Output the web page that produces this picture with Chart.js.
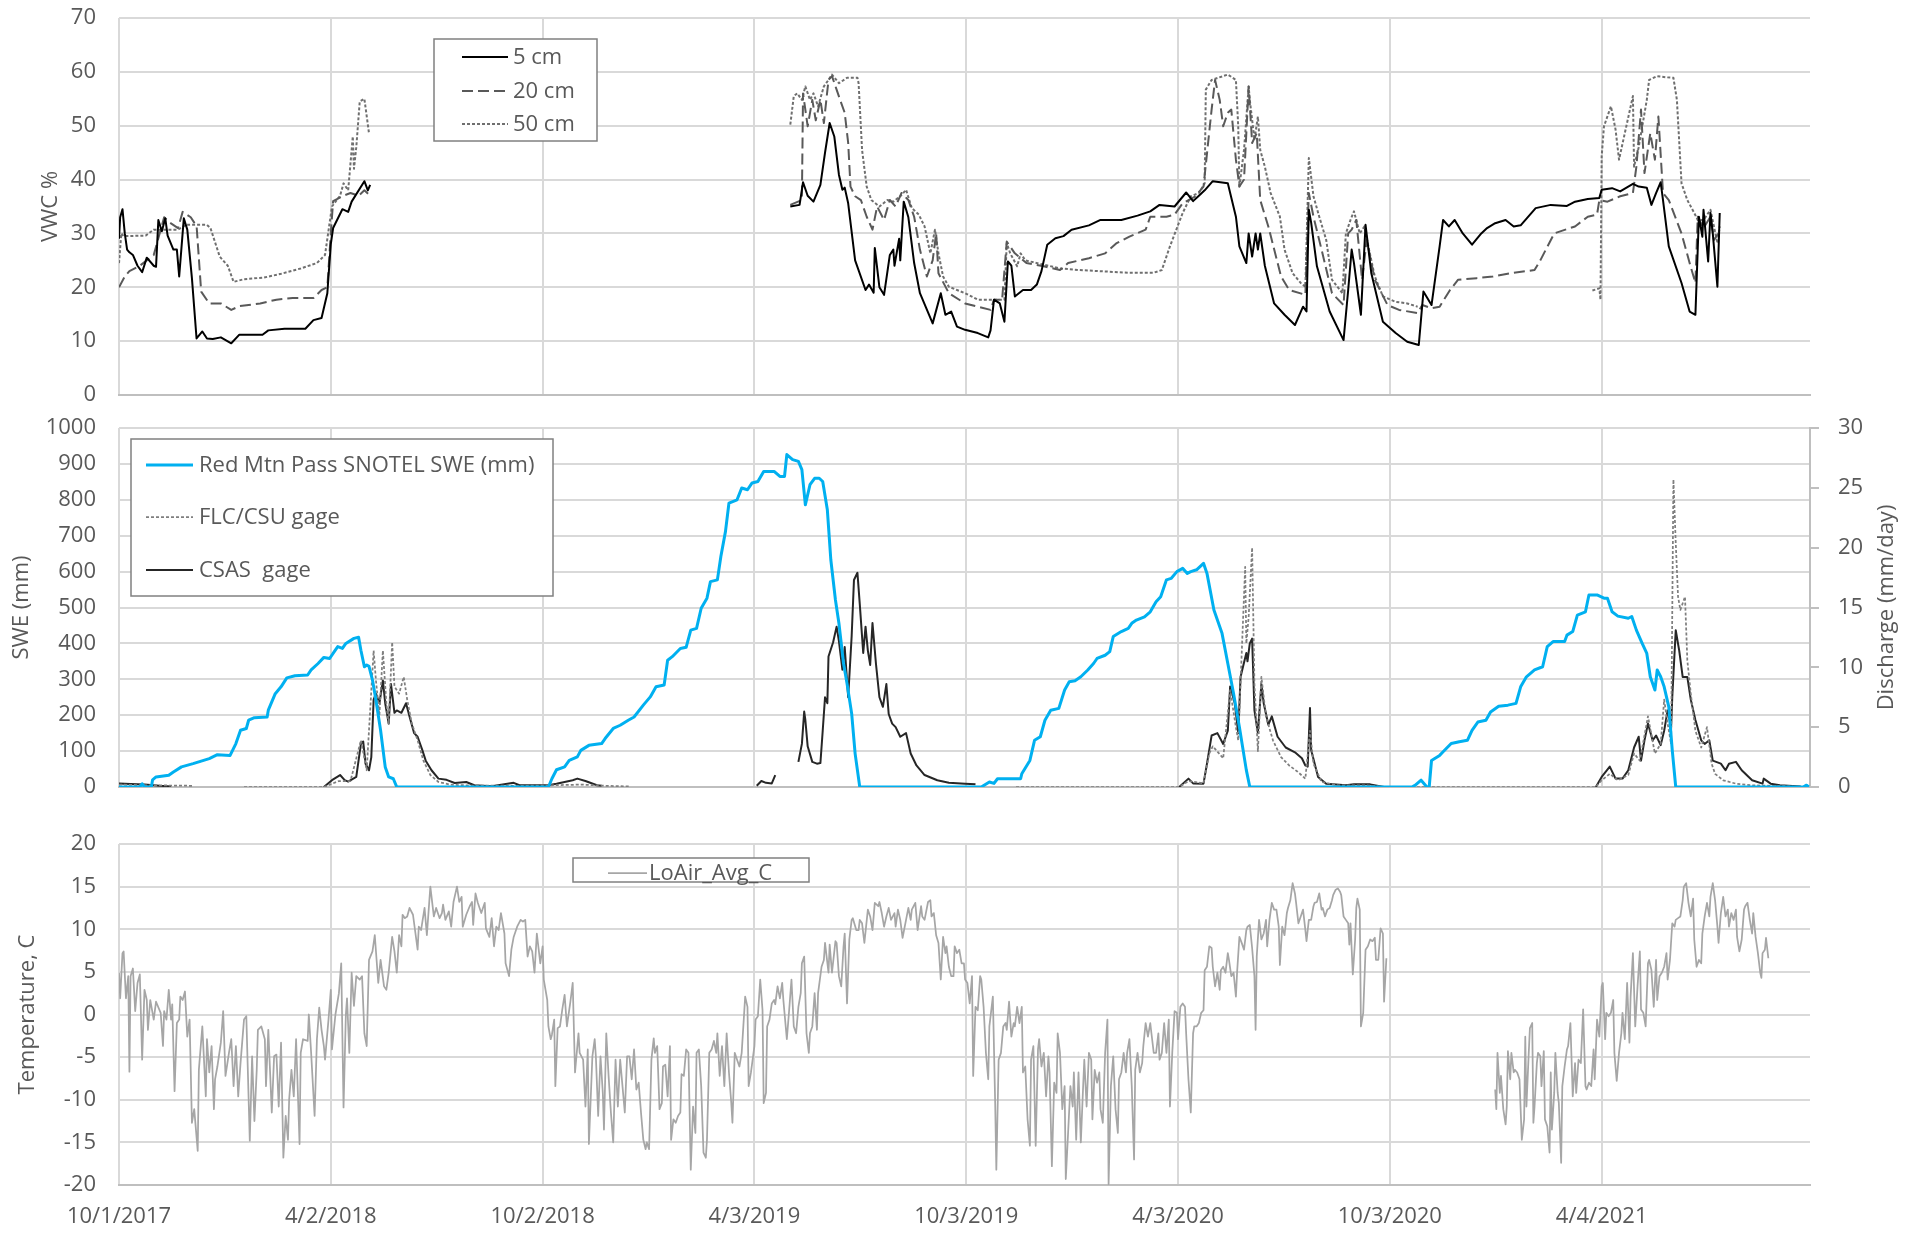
<!DOCTYPE html>
<html>
<head>
<meta charset="utf-8">
<script src="https://cdn.jsdelivr.net/npm/chart.js@4.4.1/dist/chart.umd.min.js"></script>
<style>
  body { margin: 0; background: #fff; }
  #wrap { position: relative; width: 1907px; height: 1235px; }
  canvas { position: absolute; left: 0; }
</style>
</head>
<body>
<div id="wrap">
  <canvas id="vwcChart" width="1907" height="410" style="top:0px"></canvas>
  <canvas id="sweChart" width="1907" height="410" style="top:410px"></canvas>
  <canvas id="tempChart" width="1907" height="415" style="top:820px"></canvas>
</div>
<script>
// x values are days since 10/1/2017
var tickDays = [0, 183, 366, 549, 732, 915, 1098, 1281];
var lastDay = 1461;

// soil moisture, VWC %
var vwc5 = [[0,29],[1,33],[3,34.5],[5,30],[7,27],[9,26.5],[12,26],[16,24],[20,22.8],[24,25.5],[30,24],[32,23.8],[34,32.5],[37,30.4],[40,32.8],[42,29.6],[47,27],[50,27],[52,22],[56,32.8],[59,30.7],[63,21.7],[67,10.5],[72,11.8],[76,10.5],[81,10.4],[88,10.7],[97,9.6],[104,11.2],[124,11.2],[129,12],[143,12.3],[161,12.3],[168,13.9],[175,14.3],[180,18.9],[183,28],[185,31],[193,34.5],[198,34],[201,35.9],[212,39.7],[215,38],[217,39],
  [400,null],
  [580,35],[588,35.3],[591,39.5],[595,37],[600,35.9],[606,39],[610,45],[614,50.5],[618,48],[622,40.9],[625,38.1],[627,38.5],[630,35.6],[636,25],[645,19.5],[648,20.5],[652,19],[653,27.3],[657,20],[661,18.6],[666,26],[669,27],[670,24],[674,29],[675,25],[678,35.9],[682,33],[687,24.5],[692,18.9],[703,13.3],[710,18.9],[714,14.9],[719,15.5],[724,12.7],[731,12.1],[742,11.5],[751,10.7],[753,12],[756,17.7],[761,17],[765,13.6],[768,24.8],[771,24],[774,18.3],[781,19.5],[788,19.5],[793,20.5],[797,23],[802,27.9],[809,29.1],[816,29.5],[823,30.7],[838,31.5],[848,32.5],[866,32.5],[880,33.3],[891,34.1],[899,35.3],[912,35],[922,37.6],[928,36],[933,37],[938,38],[945,39.7],[958,39.3],[965,33.1],[968,27.6],[974,24.5],[976,30],[979,25.7],[982,30],[984,27],[986,30],[990,24],[998,17],[1007,14.9],[1016,13],[1023,16.4],[1026,15.5],[1028,34.4],[1030,32],[1035,23.9],[1046,15.5],[1058,10.2],[1062,19.5],[1065,27],[1067,24.5],[1073,14.9],[1077,31.6],[1082,22.6],[1092,13.6],[1103,11.5],[1113,9.9],[1123,9.3],[1127,19.2],[1134,16.7],[1141,27.6],[1144,32.5],[1149,31.3],[1154,32.5],[1161,30],[1169,27.9],[1177,30],[1182,31],[1189,31.9],[1198,32.5],[1205,31.3],[1211,31.5],[1224,34.7],[1237,35.3],[1251,35.1],[1258,35.9],[1269,36.4],[1279,36.6],[1281,38.1],[1290,38.4],[1297,37.8],[1308,39.2],[1313,38.7],[1320,38.5],[1324,35.3],[1328,37.5],[1332,39.5],[1334,36.2],[1339,27.6],[1350,20.8],[1357,15.5],[1362,14.9],[1365,33.1],[1368,29.4],[1369,34.4],[1373,24.8],[1375,33.8],[1377,30],[1381,20.1],[1383,33.8]];

var vwc20 = [[0,20],[5,22],[9,23],[18,24],[30,26],[39,33],[44,32],[51,31],[55,34],[62,33],[65,32],[67,31.5],[71,19.2],[78,17],[88,17],[97,15.8],[104,16.5],[122,17],[136,17.7],[150,18],[168,18],[175,19.5],[180,20],[183,30],[185,36],[194,37],[200,37.5],[207,37],[212,38],[217,37],
  [400,null],
  [580,35.3],[590,36.2],[591,56],[595,49.9],[599,54.8],[602,51],[606,54.8],[609,50.5],[613,58.5],[616,59.2],[620,56.7],[623,54.8],[627,52.4],[630,46.8],[632,38.7],[636,36.9],[641,36.2],[646,33.1],[651,30.7],[655,35],[661,32.5],[666,36.2],[671,35],[676,37.5],[682,36.2],[687,33.1],[692,27],[698,22],[703,25],[706,30],[708,22.6],[717,18.9],[731,17],[742,16.4],[753,15.8],[756,17.7],[763,17.7],[767,28.5],[774,26.3],[784,24.5],[799,23.9],[813,23.2],[820,24.5],[838,25.4],[852,26.3],[862,28.2],[873,29.4],[887,30.7],[891,33.1],[905,33.1],[912,33.5],[919,35.6],[930,36.9],[937,38.7],[944,53],[947,58.5],[951,54.8],[954,49.9],[958,52.4],[961,53],[965,43.7],[968,38.7],[972,40],[976,57.3],[979,46.8],[983,48.6],[986,36.2],[993,31.3],[1004,22],[1011,19.5],[1025,18.6],[1028,37.5],[1032,33.1],[1039,27],[1048,18.9],[1058,16.7],[1062,30],[1065,30.7],[1069,32.5],[1074,21.4],[1078,28.8],[1085,21.4],[1096,16.7],[1106,15.8],[1122,15.2],[1126,16.7],[1134,16.1],[1141,16.4],[1150,19.5],[1157,21.4],[1173,21.7],[1187,22],[1202,22.6],[1223,23.2],[1228,25],[1240,30],[1258,31.3],[1269,33.1],[1277,33.5],[1279,36.2],[1286,35.9],[1297,36.9],[1308,37.5],[1311,42.4],[1315,53],[1318,41.2],[1323,48.6],[1327,43.7],[1330,51.7],[1334,37.5],[1339,36.2],[1350,30],[1357,24.5],[1362,20.8],[1364,33.1],[1369,31],[1375,33.1],[1378,28.8],[1382,30]];

var vwc50 = [[0,24.5],[2,30],[4,29.5],[23,29.6],[30,30.7],[51,30.7],[58,31.6],[76,31.6],[79,31],[87,25.7],[94,24],[99,21],[108,21.5],[125,21.8],[140,22.5],[157,23.5],[171,24.5],[178,26],[180,29],[184,35],[191,37],[194,39.3],[198,38],[202,48],[203,42],[205,46],[208,54.5],[212,55],[216,48.6],
  [400,null],
  [580,50.2],[583,55.5],[586,56],[590,54.8],[593,57.3],[597,54.8],[600,56],[604,53.6],[609,57.3],[613,58.5],[616,59.5],[622,57.9],[629,58.9],[638,58.9],[639,57.9],[642,45.5],[646,38.7],[650,36.2],[657,35],[664,36.2],[669,35.9],[675,36.9],[680,38.1],[685,34.7],[691,33.5],[696,31.3],[701,26.3],[705,30.7],[708,26.3],[712,22],[717,20.1],[724,19.5],[731,18.9],[742,17.7],[754,17.7],[765,17.7],[767,28.2],[770,26.3],[776,23.9],[779,26.3],[783,25],[799,24.2],[813,23.5],[830,23.2],[855,22.9],[873,22.7],[894,22.7],[901,23.2],[908,27.6],[919,33.8],[926,36.9],[933,37.5],[938,39.3],[939,56.7],[944,58.5],[958,59.5],[965,58.5],[967,49.9],[968,38.7],[972,45.5],[976,57.3],[977,54.8],[981,47.4],[984,51.7],[986,45.5],[990,42.4],[995,37.5],[1003,33.1],[1007,27],[1014,22.6],[1021,20.8],[1025,20.1],[1028,44],[1032,36.9],[1037,33.1],[1043,28.8],[1048,21.4],[1057,18.9],[1060,30],[1064,32.5],[1067,34.1],[1072,30],[1076,31.3],[1080,27],[1085,22],[1092,18.3],[1103,17.3],[1113,17],[1122,16.4],
  [1200,null],
  [1273,19.4],[1279,19.8],[1280,17.7],[1281,44.3],[1283,49.9],[1289,53.6],[1293,49.3],[1296,43.7],[1308,55.5],[1309,42.4],[1313,46],[1320,54.8],[1322,58.5],[1329,59.2],[1336,59],[1343,58.9],[1346,54.8],[1350,39.3],[1355,36.2],[1361,33.8],[1364,32.5],[1369,32.5],[1375,34.4],[1378,31.3],[1381,28.2],[1383,31.3]];

// snow water equivalent, mm
var sweRedMtn = [[0,0],[18,0],[20,9],[22,0],[28,0],[29,20],[32,28],[43,33],[47,42],[54,56],[64,65],[78,79],[85,90],[96,88],[101,121],[105,158],[110,163],[112,186],[117,193],[128,195],[129,214],[135,260],[140,279],[145,304],[152,310],[163,312],[166,326],[172,344],[177,361],[182,358],[186,377],[189,391],[193,386],[196,400],[203,414],[207,417],[209,381],[212,335],[214,340],[216,336],[219,298],[222,242],[226,158],[230,56],[233,28],[237,23],[240,0],[371,0],[374,23],[378,48],[385,56],[389,74],[396,84],[399,102],[406,116],[417,121],[420,135],[427,163],[433,172],[440,186],[445,195],[453,228],[459,251],[464,279],[471,284],[474,353],[478,363],[485,386],[490,389],[494,437],[499,442],[503,498],[508,526],[511,572],[517,577],[520,642],[524,712],[527,791],[534,800],[538,833],[543,828],[547,847],[552,851],[557,879],[566,879],[571,865],[575,865],[577,926],[582,912],[587,907],[590,884],[593,786],[597,842],[601,860],[605,860],[608,851],[612,772],[615,633],[619,521],[622,456],[626,344],[629,288],[633,205],[636,93],[640,0],[745,0],[752,14],[756,10],[759,23],[779,23],[780,37],[787,74],[791,130],[796,140],[800,186],[805,214],[812,219],[817,270],[821,293],[826,296],[831,307],[837,326],[842,344],[845,358],[852,367],[856,377],[859,419],[866,433],[872,442],[875,456],[879,465],[886,474],[891,488],[896,516],[900,530],[905,577],[909,581],[914,600],[919,609],[923,595],[926,600],[931,605],[937,623],[940,595],[946,493],[953,428],[958,344],[963,260],[968,167],[974,47],[977,0],[1117,0],[1120,5],[1125,19],[1130,0],[1132,0],[1134,74],[1141,88],[1144,98],[1151,121],[1158,126],[1165,130],[1169,158],[1174,181],[1181,186],[1185,209],[1192,225],[1200,228],[1207,233],[1211,279],[1216,307],[1223,326],[1230,335],[1234,391],[1239,405],[1249,405],[1251,423],[1256,433],[1260,479],[1267,488],[1270,535],[1277,535],[1283,526],[1286,526],[1290,488],[1295,476],[1304,470],[1307,475],[1311,437],[1316,400],[1320,372],[1323,307],[1327,270],[1329,326],[1332,307],[1335,279],[1339,223],[1342,102],[1345,0],[1455,0],[1458,5],[1460,0]];

// discharge, mm/day
var flcGage = [[0,0.2],[20,0.15],[64,0.1],[90,null],[108,0],[177,0],[190,0.5],[200,0.5],[209,3.9],[214,1.4],[220,11.4],[222,8.9],[225,6],[228,11.4],[231,7],[233,5.3],[236,12.1],[238,8.4],[242,7.8],[246,9.2],[249,7.3],[253,5.3],[258,3.9],[263,2.2],[269,1],[276,0.42],[286,0.2],[304,0.12],[350,0.1],[400,0.2],[420,0.1],[441,0.05],
  [600,null],
  [775,0],[916,0],[924,0.5],[937,0.3],[942,2.8],[945,3.4],[954,2.4],[960,8.1],[965,5],[967,3.9],[973,18.4],[974,12],[976,14.2],[979,20],[981,8.6],[984,3],[987,9.2],[991,5.9],[997,3.9],[1004,2.5],[1011,1.8],[1018,1.3],[1025,0.7],[1029,4.7],[1032,1.95],[1039,0.42],[1053,0.14],[1078,0.14],[1092,0],[1130,0],[1276,0],[1281,0.56],[1288,1.1],[1295,0.56],[1304,1],[1309,2.8],[1314,2.2],[1321,5.9],[1327,2.8],[1332,3.6],[1335,7.3],[1338,5.3],[1341,3.6],[1343,25.7],[1345,20.4],[1347,15.9],[1349,14.8],[1353,15.9],[1355,10.6],[1358,7.8],[1362,4.7],[1367,3.3],[1372,5],[1376,1.95],[1379,1.1],[1386,0.56],[1397,0.28],[1411,0.14],[1446,0.05]];

var csasGage = [[0,0.3],[10,0.25],[22,0.2],[35,0.1],[45,0.05],[100,null],
  [177,0],[184,0.57],[191,1],[195,0.57],[198,0.45],[205,0.84],[209,3.6],[211,3.8],[213,1.95],[216,1.4],[218,2.5],[220,7.3],[222,7.8],[225,7],[228,8.9],[230,7],[233,5.3],[235,8.6],[238,6.2],[240,6.4],[244,6.2],[248,7],[251,5.9],[255,4.5],[258,4.2],[262,3.1],[265,2.2],[270,1.4],[276,0.7],[283,0.6],[290,0.33],[300,0.42],[307,0.15],[322,0.06],[341,0.35],[346,0.15],[371,0.15],[378,0.27],[392,0.57],[396,0.7],[403,0.5],[413,0.15],[417,0.1],
  [480,null],
  [551,0.1],[555,0.5],[559,0.35],[564,0.3],[567,1],[577,null],
  [587,2.1],[590,3.6],[592,6.3],[593,5.6],[595,3.4],[599,2.1],[603,1.95],[606,2],[608,4.7],[610,7.5],[612,7],[613,10.9],[617,12.1],[620,13.4],[622,12.2],[625,9.8],[627,11.7],[630,7.5],[633,12.6],[635,17.3],[638,17.9],[640,15.3],[643,11.2],[645,13.4],[647,11.4],[649,10.2],[651,13.7],[654,10.3],[657,7.5],[660,6.7],[663,8.6],[665,6.1],[668,5.3],[671,5],[675,4.2],[680,4.5],[684,2.8],[689,1.8],[696,1],[707,0.56],[717,0.36],[731,0.28],[740,0.22],
  [830,null],
  [916,0],[924,0.7],[928,0.3],[937,0.28],[940,1.95],[944,4.3],[949,4.5],[954,3.6],[958,4.7],[960,8.4],[964,7],[967,4.5],[969,9.2],[974,11.2],[975,10.5],[977,12],[979,12.4],[981,6.4],[984,4.5],[987,8.6],[989,7],[993,5.2],[996,5.9],[1001,4.2],[1008,3.3],[1016,2.9],[1022,2.4],[1025,1.8],[1027,1.7],[1029,6.6],[1030,3.1],[1036,0.84],[1043,0.28],[1060,0.14],[1067,0.22],[1081,0.22],[1093,0],
  [1180,null],
  [1276,0],[1281,0.84],[1288,1.7],[1293,0.7],[1299,0.7],[1304,1.4],[1309,3.3],[1313,4.2],[1315,2.2],[1318,3.9],[1321,5.3],[1325,3.9],[1328,4.3],[1332,3.5],[1335,4.7],[1338,6.4],[1341,5],[1342,7.5],[1345,13.1],[1348,11.4],[1351,9.2],[1355,9.2],[1358,7.3],[1362,5.6],[1367,3.9],[1370,3.6],[1374,3.9],[1377,2.2],[1384,1.95],[1388,1.4],[1391,1.95],[1397,2.1],[1402,1.4],[1411,0.56],[1420,0.28],[1421,0.7],[1427,0.28],[1435,0.14],[1453,0.05]];

// air temperature, C
var loAir = [[0,4.9],[1,1.9],[3,7.2],[4,7.4],[6,1.9],[8,4.5],[9,-6.7],[10,4.5],[12,5.4],[14,0.4],[16,3.7],[18,4.7],[20,-5.3],[22,2.9],[24,1.7],[25,-1.8],[27,1.7],[30,-0.6],[32,1.5],[36,0.2],[38,-3.7],[39,0.4],[41,-0.6],[43,2.9],[45,-0.6],[46,1.2],[48,-9],[50,-1],[52,-0.6],[53,2.1],[55,1.7],[57,2.7],[59,-2.6],[61,-0.6],[63,-12.7],[65,-11.1],[68,-16],[69,-6.5],[72,-1.4],[75,-9.6],[76,-2.9],[78,-6.8],[80,-3.7],[82,-11.1],[83,-7.6],[85,-6.1],[88,-3.3],[90,0.4],[92,-7.2],[95,-4.5],[97,-2.9],[99,-8.4],[101,-3.7],[103,-9.6],[105,-5.7],[108,-0.6],[110,-0.2],[113,-14.8],[115,-4.9],[117,-12.5],[119,-6.5],[120,-1.8],[123,-1.4],[126,-2.9],[127,-8.4],[129,-1.8],[132,-11.5],[134,-4.9],[136,-4.7],[138,-10.8],[140,-3.3],[142,-16.8],[144,-11.9],[146,-14.7],[147,-10],[149,-6.5],[151,-9.6],[153,-2.9],[156,-15.2],[157,-4.5],[159,-2.9],[163,-3.1],[164,0],[166,-4.5],[169,-11.9],[171,-2.9],[173,0.8],[175,-1.8],[177,-3.7],[178,-5.3],[181,-0.6],[183,2.9],[184,-4.1],[187,0],[190,2.5],[192,6],[194,-10.9],[196,0],[197,1.9],[199,-4.5],[201,4.9],[203,1],[205,4.5],[208,4.1],[210,4.5],[212,-2.2],[214,-3.7],[216,6.4],[219,7.4],[221,9.3],[224,3.7],[226,6.4],[229,3.3],[231,2.9],[233,4.9],[236,9.1],[238,7.4],[240,4.9],[242,9.3],[244,8],[245,11.7],[247,11.3],[249,11.5],[251,12.5],[254,11.7],[258,7.6],[259,10.3],[261,9.9],[264,12.5],[266,9.3],[269,15],[272,11.5],[274,12.5],[277,11.3],[279,11.9],[280,12.9],[282,11.1],[285,12.1],[287,10.3],[289,13.2],[292,15],[294,13.2],[296,13.8],[297,10.3],[300,11.7],[303,12.7],[305,13.2],[306,10.5],[308,14.2],[310,13.1],[313,11.9],[316,13.1],[317,10.1],[320,9.1],[322,11.3],[324,8],[326,10.3],[328,9.9],[330,11.9],[333,9.5],[334,6],[337,4.5],[339,7.6],[341,9.1],[344,10.3],[347,11.1],[349,10.9],[351,11.1],[353,6.8],[355,8],[357,7.4],[359,4.9],[361,9.5],[364,6],[366,8],[367,4.1],[370,1.7],[371,-1.4],[373,-2.9],[374,-2.4],[376,-0.6],[377,-8.4],[379,-1.6],[381,-1.4],[383,0.6],[385,2.3],[387,-1.4],[390,1.5],[392,3.7],[394,-6.8],[397,-2.2],[398,-4.5],[401,-5.3],[403,-10.8],[405,-4.1],[406,-15.2],[409,-4.9],[411,-2.9],[412,-4.9],[414,-11.9],[416,-4.9],[418,-9.2],[419,-13.5],[421,-2.2],[423,-7.2],[425,-11.5],[427,-15],[429,-5.3],[431,-10.8],[433,-5.3],[437,-11.5],[439,-4.9],[441,-4.9],[443,-7.6],[445,-4.1],[447,-8.8],
  [449,-8],[451,-11.5],[453,-14.7],[455,-15.8],[456,-15],[458,-15.8],[460,-5.3],[462,-2.8],[463,-4.5],[465,-3.7],[467,-11.1],[469,-10.4],[470,-6.1],[472,-5.9],[474,-9.6],[476,-3.7],[477,-14.7],[479,-12.3],[481,-12.7],[483,-11.9],[485,-11.5],[486,-7],[488,-7.2],[490,-4.1],[492,-4.5],[494,-18.2],[496,-10.8],[498,-13.9],[499,-4.5],[501,-4.1],[503,-8.4],[505,-16.2],[507,-16.8],[508,-14.7],[510,-4.5],[512,-4.1],[514,-3.1],[516,-4.5],[517,-2.2],[519,-7.2],[521,-3.7],[523,-8.4],[525,-2.2],[527,-6.8],[529,-10.4],[530,-12.7],[532,-4.5],[534,-5.3],[536,-6.1],[538,-4.5],[541,2.1],[543,0.9],[544,-8.4],[546,-6.8],[549,-3.7],[550,-0.6],[552,-0.2],[554,4.1],[556,0.5],[557,-10.4],[559,-9.2],[560,-1.4],[562,-0.6],[564,1.3],[566,1.7],[567,1.2],[569,3.3],[571,1.9],[573,3.7],[574,1.7],[577,-2.9],[579,0.5],[581,4.1],[583,-1.4],[585,-2.2],[587,0.9],[589,2.5],[590,6],[592,6.8],[594,-2.2],[596,-4.5],[597,-2.2],[599,-1.4],[601,2.5],[603,-1.8],[604,2.5],[607,5.6],[609,6.4],[610,8.4],[613,4.9],[614,8.2],[616,4.9],[619,8.6],[620,8.4],[622,4.5],[624,3.3],[626,8],[627,9.5],[629,1.3],[631,8.8],[633,11.1],[634,11.3],[637,9.9],[639,9.9],[640,11.1],[642,10.7],[644,8.4],[647,12.3],[649,11.5],[651,9.9],[653,13.1],[656,12.7],[657,13.2],[659,11.9],[661,10.3],[663,11.5],[665,12.5],[667,11.1],[670,11.9],[671,10.3],[673,12.3],[675,11.1],[677,9],[680,11.1],[682,12.5],[684,11.1],[685,12.3],[688,13.1],[690,9.9],[693,12.7],[694,11.5],[696,11.1],[699,13.2],[701,13.4],[702,11.5],[704,11.9],[706,9.3],[708,8.4],[710,4.1],[712,9.1],[714,7.2],[715,8],[717,5.6],[719,4.5],[721,4.5],[722,8],[724,7.2],[726,7.6],[728,6],[730,6],[731,4.1],[733,3.7],[735,1.3],[737,4.5],[738,-7.2],[740,0.9],[742,0.5],[744,4.5],[745,4.1],[747,0.9],[749,-4.5],[751,-7.6],[752,-1.4],[755,2.1],[757,-10.4],[758,-18.2],[760,-5.3],[762,-4.5],[764,-1.4],[766,-1],[767,-1.8],[769,1.5],[771,-2.6],[773,-1],[774,-1.4],[776,0.9],[778,-1],[780,0.9],[781,-6.8],[783,-6.1],[785,-12.3],[787,-15.4],[788,-5.3],[790,-3.7],[792,-15.4],[794,-4.1],[795,-2.9],[797,-6.1],[799,-4.5],[801,-9.6],[803,-4.9],[804,-6.8],[806,-17.8],[808,-8],[810,-9.2],[811,-2.2],[813,-4.5],[815,-11.1],[817,-8.4],[818,-19.3],[820,-13.9],[822,-8.4],[824,-10.8],[825,-6.8],[827,-14.7],[829,-6.8],[831,-15],[833,-8.4],[834,-5.3],[836,-10.8],[838,-4.5],[840,-5.3],[841,-12.3],[843,-6.5],[845,-8],[847,-6.8],[848,-11.1],[850,-12.7],[852,-4.5],[854,-0.6],[855,-19.9],[857,-8.4],[859,-4.9],[861,-11.1],[863,-13.9],[864,-7.6],[866,-6.8],[868,-4.5],[870,-6.8],[871,-4.5],[873,-2.9],[875,-8.4],[877,-17],[878,-6.5],[880,-4.5],[882,-6.8],[884,-5.7],[885,-3.7],[887,-1],[889,-2.6],[891,-1],[892,-2.2],[894,-4.5],[896,-4.5],[898,-2.2],[899,-5.3],[901,-4.5],[903,-1],[905,-4.5],[907,-0.6],[908,-10.8],[910,-4.5],[912,0.4],[914,0.2],[915,-2.9],[917,0.9],[919,1.3],[921,0.9],[922,-2.2],[924,-7.6],[926,-11.5],[928,-2.2],[929,-1.4],[931,-1.4],[933,-1],[935,0.2],[937,0.5],[938,5.2],[940,5.6],[942,8],[944,7.8],[945,5.6],[947,3.3],[949,4.9],[951,2.9],[952,5.2],[954,5.6],[956,4.9],[958,7.2],[959,6.4],[961,4.5],[963,4.9],[965,2.1],[966,4.9],[968,9.1],[970,8.4],[972,7.6],[974,9.9],[975,10.3],[977,10.5],[979,7.8],[981,4.5],[982,-1.8],[983,6.8],[985,11.1],[987,8.8],[989,9.5],[991,11.1],[992,8],[994,11.1],[996,13.1],[998,12.3],
  [1000,12.3],[1002,10.3],[1003,5.8],[1005,10.3],[1007,9.3],[1009,11.9],[1010,12.5],[1012,13.4],[1014,15.4],[1016,14.2],[1017,13.1],[1019,10.7],[1021,11.5],[1023,12.3],[1025,9.9],[1026,8.6],[1028,11.1],[1030,11.1],[1032,12.7],[1033,13.1],[1035,13.2],[1037,14.2],[1039,12.3],[1040,12.5],[1042,11.5],[1044,12.3],[1046,12.5],[1048,13.4],[1049,14],[1051,14.6],[1053,14.8],[1055,14.4],[1056,14],[1058,11.5],[1060,11.1],[1062,10.7],[1063,8.2],[1064,10.7],[1066,4.7],[1068,8.8],[1069,12.5],[1070,13.6],[1072,12.3],[1073,-1.4],[1075,0.2],[1077,7.6],[1079,8],[1081,8.8],[1083,8.6],[1085,9],[1086,6.4],[1088,6.4],[1090,10.1],[1092,9.5],[1093,1.5],[1095,6.6],
  [1140,null],
  [1189,-8.8],[1190,-11.1],[1191,-4.5],[1193,-9.2],[1194,-7.2],[1196,-11.1],[1198,-12.9],[1199,-10.8],[1200,-4.3],[1202,-7.6],[1203,-4.5],[1205,-6.8],[1206,-6.5],[1208,-6.8],[1210,-7.6],[1212,-14.7],[1214,-12.3],[1215,-2.6],[1216,-10.8],[1218,-4.5],[1219,-1.6],[1221,-1],[1222,-12.7],[1223,-10.8],[1225,-5.7],[1226,-4.5],[1228,-4.9],[1229,-8.4],[1231,-4.3],[1232,-12.3],[1234,-13.1],[1236,-16.2],[1237,-6.8],[1238,-13.5],[1240,-9.2],[1241,-4.5],[1243,-9.2],[1244,-10.4],[1246,-17.4],[1247,-8.4],[1249,-6.1],[1251,-4.1],[1252,-3.7],[1254,-1],[1256,-9.6],[1258,-5.7],[1259,-9.2],[1261,-5.3],[1263,-5.7],[1265,0.6],[1267,-8.4],[1268,-8.8],[1270,-8],[1272,-8.4],[1274,-4.1],[1275,-7.6],[1277,-0.6],[1279,-2.6],[1281,3.3],[1282,3.7],[1284,-2.9],[1285,0.2],[1287,-0.2],[1289,0.2],[1291,1.7],[1292,-4.5],[1294,-7.8],[1296,-4.5],[1298,-2.2],[1299,0.2],[1301,-2.9],[1303,3.7],[1305,-3.3],[1306,2.1],[1308,7.2],[1310,-1.4],[1312,3.3],[1314,7.4],[1315,0.6],[1317,0.2],[1319,-1.4],[1321,6],[1322,6.4],[1324,5.2],[1326,0.9],[1328,6.4],[1329,1.7],[1331,4.5],[1333,4.9],[1335,5.6],[1337,7.2],[1338,4.1],[1340,6.4],[1342,10.7],[1344,10.3],[1345,11.1],[1347,11.3],[1349,11.5],[1351,13.4],[1352,15],[1354,15.4],[1356,13.1],[1358,11.5],[1360,13.6],[1361,8.8],[1363,5.6],[1365,6.4],[1367,6],[1368,9.5],[1370,11.5],[1372,13.1],[1374,11.5],[1375,13.8],[1377,15.4],[1379,13.4],[1381,10.3],[1382,8.4],[1384,11.9],[1386,13.8],[1388,11.5],[1390,12.3],[1391,10.3],[1393,11.9],[1395,11.1],[1397,12.3],[1398,9.1],[1400,7.4],[1402,8.8],[1404,12.3],[1405,12.7],[1407,13.1],[1409,11.1],[1411,9.5],[1412,11.9],[1414,9.1],[1416,7.2],[1418,4.9],[1419,4.3],[1420,7.2],[1422,7.6],[1423,9],[1425,6.6]];

var txtColor = '#595959';
var gridColor = '#d9d9d9';
var axisColor = '#bfbfbf';
var baseFont = { family: "'Open Sans', sans-serif", size: 22 };

function dayLabel(d) {
    var dt = new Date(2017, 9, 1 + d);
    return (dt.getMonth() + 1) + '/' + dt.getDate() + '/' + dt.getFullYear();
}

// tick label overflow must not shrink the plot area
function noLabelPadding(s) {
    s.paddingTop = 0; s.paddingBottom = 0; s.paddingLeft = 0; s.paddingRight = 0;
}

// legend box + rotated right axis title, drawn on top of the chart
var boxLegend = {
    id: 'boxLegend',
    afterDraw: function(chart, args, o) {
        if (!o.box) return;
        var ctx = chart.ctx;
        ctx.save();
        ctx.fillStyle = '#fff';
        ctx.fillRect(o.box[0], o.box[1], o.box[2], o.box[3]);
        ctx.strokeStyle = '#808080';
        ctx.lineWidth = 1.5;
        ctx.strokeRect(o.box[0], o.box[1], o.box[2], o.box[3]);
        ctx.font = '22px "Open Sans", sans-serif';
        ctx.textBaseline = 'middle';
        o.rows.forEach(function(y, i) {
            var ds = chart.data.datasets[i];
            ctx.beginPath();
            ctx.setLineDash(ds.borderDash || []);
            ctx.strokeStyle = ds.borderColor;
            ctx.lineWidth = ds.borderWidth;
            ctx.moveTo(o.line[0], y);
            ctx.lineTo(o.line[1], y);
            ctx.stroke();
            ctx.setLineDash([]);
            ctx.fillStyle = txtColor;
            ctx.fillText(ds.label, o.textX, y + 1);
        });
        if (o.rightTitle) {
            var a = chart.chartArea;
            ctx.translate(o.rightTitle.x, (a.top + a.bottom) / 2);
            ctx.rotate(-Math.PI / 2);
            ctx.textAlign = 'center';
            ctx.fillStyle = txtColor;
            ctx.fillText(o.rightTitle.text, 0, 0);
        }
        ctx.restore();
    }
};

function xAxis(height, showLabels) {
    return {
        type: 'linear', min: 0, max: lastDay,
        afterBuildTicks: function(s) { s.ticks = tickDays.map(function(v) { return { value: v }; }); },
        afterFit: function(s) { s.height = height; noLabelPadding(s); },
        grid: { color: gridColor, lineWidth: 2, drawTicks: false },
        border: { color: axisColor, width: 2 },
        ticks: { display: showLabels, padding: 19, font: baseFont, color: txtColor, maxRotation: 0, autoSkip: false,
                 callback: function(v) { return dayLabel(v); } }
    };
}

function yAxis(min, max, step, title, titlePad) {
    return {
        min: min, max: max,
        afterFit: function(s) { s.width = 119; noLabelPadding(s); },
        grid: { color: gridColor, lineWidth: 2, drawTicks: false },
        border: { display: false },
        ticks: { stepSize: step, padding: 23, font: baseFont, color: txtColor, callback: function(v) { return v; } },
        title: { display: true, text: title, font: baseFont, color: txtColor, padding: { top: titlePad, bottom: 0 } }
    };
}

function line(label, data, color, width, dash, axis) {
    return {
        label: label, data: data, borderColor: color, borderWidth: width, borderDash: dash,
        pointRadius: 0, tension: 0, fill: false, spanGaps: false, borderJoinStyle: 'round',
        yAxisID: axis || 'y'
    };
}

var common = { responsive: false, animation: false, devicePixelRatio: 1, events: [] };

new Chart(document.getElementById('vwcChart'), {
    type: 'line',
    data: { datasets: [
        line('5 cm', vwc5, '#000000', 2, []),
        line('20 cm', vwc20, '#595959', 2, [11, 5]),
        line('50 cm', vwc50, '#6f6f6f', 2, [3, 2])
    ] },
    options: Object.assign({}, common, {
        layout: { padding: { top: 18, right: 97, left: 0, bottom: 0 } },
        scales: { x: xAxis(15, false), y: yAxis(0, 70, 10, 'VWC %', 38) },
        plugins: { legend: { display: false }, tooltip: { enabled: false },
            boxLegend: { box: [434, 39, 163, 102], rows: [57, 91, 124], line: [462, 508], textX: 513 } }
    }),
    plugins: [boxLegend]
});

new Chart(document.getElementById('sweChart'), {
    type: 'line',
    data: { datasets: [
        line('Red Mtn Pass SNOTEL SWE (mm)', sweRedMtn, '#00b0f0', 3, []),
        line('FLC/CSU gage', flcGage, '#7f7f7f', 1.75, [3, 2], 'y2'),
        line('CSAS  gage', csasGage, '#262626', 2, [], 'y2')
    ] },
    options: Object.assign({}, common, {
        layout: { padding: { top: 18, right: 0, left: 0, bottom: 0 } },
        scales: {
            x: xAxis(33, false),
            y: yAxis(0, 1000, 100, 'SWE (mm)', 9),
            y2: {
                position: 'right', min: 0, max: 30,
                afterFit: function(s) { s.width = 97; noLabelPadding(s); },
                grid: { drawOnChartArea: false, drawTicks: true, tickLength: 9, color: axisColor, lineWidth: 2 },
                border: { display: true, color: axisColor, width: 2 },
                ticks: { stepSize: 5, padding: 19, font: baseFont, color: txtColor, callback: function(v) { return v; } }
            }
        },
        plugins: { legend: { display: false }, tooltip: { enabled: false },
            boxLegend: { box: [131, 29, 422, 157], rows: [55, 107, 160], line: [146, 193], textX: 199,
                         rightTitle: { text: 'Discharge (mm/day)', x: 1887 } } }
    }),
    plugins: [boxLegend]
});

new Chart(document.getElementById('tempChart'), {
    type: 'line',
    data: { datasets: [
        line('LoAir_Avg_C', loAir, '#a6a6a6', 1.75, [])
    ] },
    options: Object.assign({}, common, {
        layout: { padding: { top: 24, right: 97, left: 0, bottom: 0 } },
        scales: { x: xAxis(50, true), y: yAxis(-20, 20, 5, 'Temperature, C', 15) },
        plugins: { legend: { display: false }, tooltip: { enabled: false },
            boxLegend: { box: [573, 38, 236, 24], rows: [53], line: [608, 647], textX: 649 } }
    }),
    plugins: [boxLegend]
});
</script>
</body>
</html>
